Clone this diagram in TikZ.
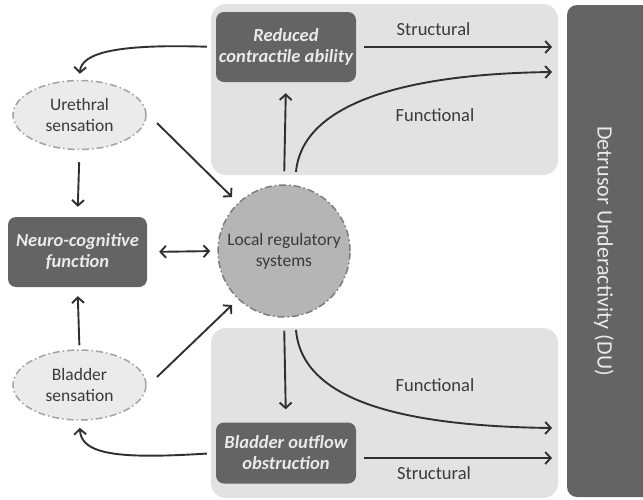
\documentclass[tikz,border=0pt]{standalone}
\usepackage{fontspec}
\setmainfont{Carlito}
\usetikzlibrary{arrows.meta,shapes.geometric}
\definecolor{darkbox}{HTML}{646464}
\definecolor{panelgrey}{HTML}{E2E2E2}
\definecolor{ellfill}{HTML}{EBEBEB}
\definecolor{ellline}{HTML}{A3A3A3}
\definecolor{circfill}{HTML}{B5B5B5}
\definecolor{circline}{HTML}{7C7C7C}
\definecolor{arrcol}{HTML}{303030}
\definecolor{boxtext}{HTML}{EAEAEA}
\definecolor{labtext}{HTML}{3A3A3A}
\begin{document}
\begin{tikzpicture}[x=1pt,y=-1pt,
  panelbox/.style={fill=panelgrey, draw=none, rounded corners=15pt, inner sep=0pt},
  darkbox/.style={fill=darkbox, draw=none, rounded corners=8pt, text=boxtext, align=center,
     font=\fontsize{18.5}{21}\selectfont\bfseries\itshape, inner sep=0pt},
  sensell/.style={ellipse, fill=ellfill, draw=ellline, line width=1.5pt, dash pattern=on 7pt off 3pt on 1.5pt off 3pt,
     align=center, text=labtext, font=\fontsize{17.5}{21}\selectfont, inner sep=0pt},
  regcirc/.style={circle, fill=circfill, draw=circline, line width=1.5pt, dash pattern=on 7pt off 3pt on 1.5pt off 3pt,
     align=center, text=labtext, font=\fontsize{17.5}{21}\selectfont, inner sep=0pt, minimum size=132pt},
  arr/.style={draw=arrcol, line width=1.9pt, -{Straight Barb[length=5.5pt,width=12pt]}},
  darr/.style={draw=arrcol, line width=1.9pt, {Straight Barb[length=5.5pt,width=12pt]}-{Straight Barb[length=5.5pt,width=12pt]}},
  lab/.style={text=labtext, font=\fontsize{18.5}{21}\selectfont}
]
\useasboundingbox (0,0) rectangle (643,499);
% panels
\node[panelbox, minimum width=347pt, minimum height=171pt] (toppanel) at (384.5,89.5) {};
\node[panelbox, minimum width=347pt, minimum height=170pt] (botpanel) at (384.5,413) {};
% DU bar
\fill[darkbox, rounded corners=10pt] (567,5) rectangle (665,497);
\node[rotate=-90, text=boxtext, font=\fontsize{22}{24}\selectfont] (du) at (604,251) {Detrusor Underactivity (DU)};
% boxes
\node[darkbox, minimum width=140pt, minimum height=70pt] (reduced) at (286,47) {Reduced\\contractile ability};
\node[darkbox, minimum width=139pt, minimum height=70pt] (neuro) at (77.5,252) {Neuro-cognitive\\function};
\node[darkbox, minimum width=140pt, minimum height=61pt] (bout) at (286,453) {Bladder outflow\\obstruction};
% ellipses
\node[sensell, minimum width=133pt, minimum height=69pt] (ureth) at (79.5,115) {Urethral\\sensation};
\node[sensell, minimum width=133pt, minimum height=70pt] (bsens) at (79.5,385) {Bladder\\sensation};
% circle
\node[regcirc] (loc) at (284,251) {Local regulatory\\systems};
% coordinates
\coordinate (ftopstart) at (296,172);
\coordinate (ftopend) at (552,72);
\coordinate (stopstart) at (364,47);
\coordinate (stopend) at (552,47);
\coordinate (fbotstart) at (296,330);
\coordinate (fbotend) at (552,428);
\coordinate (sbotstart) at (364,458);
\coordinate (sbotend) at (552,458);
\coordinate (urs) at (157,123);
\coordinate (ure) at (232,197);
\coordinate (bls) at (157,377);
\coordinate (ble) at (232,305);
% arrows
\draw[arr, shorten <=9pt, shorten >=6pt] (reduced.west) .. controls (120,44) and (81,52) .. (ureth.north);
\draw[arr, shorten <=13pt, shorten >=11pt] (loc.north) -- (reduced.south);
\draw[arr] (ftopstart) .. controls (302,105) and (400,74) .. (ftopend);
\draw[arr] (stopstart) -- (stopend);
\draw[arr, shorten <=12pt, shorten >=10pt] (ureth.south) -- (neuro.north);
\draw[arr] (urs) -- (ure);
\draw[darr, shorten <=12pt, shorten >=7pt] (neuro.east) -- (loc.west);
\draw[arr, shorten <=4pt, shorten >=9pt] (bsens.north) -- (neuro.south);
\draw[arr] (bls) -- (ble);
\draw[arr, shorten <=13pt, shorten >=13pt] (loc.south) -- (bout.north);
\draw[arr] (fbotstart) .. controls (302,400) and (400,426) .. (fbotend);
\draw[arr] (sbotstart) -- (sbotend);
\draw[arr, shorten <=9pt, shorten >=7pt] (bout.west) .. controls (120,459) and (81,455) .. (bsens.south);
% labels
\node[lab] (ls1) at (433.5,29) {Structural};
\node[lab] (lf1) at (435,115) {Functional};
\node[lab] (lf2) at (435,385) {Functional};
\node[lab] (ls2) at (434,473) {Structural};
\end{tikzpicture}
\end{document}
